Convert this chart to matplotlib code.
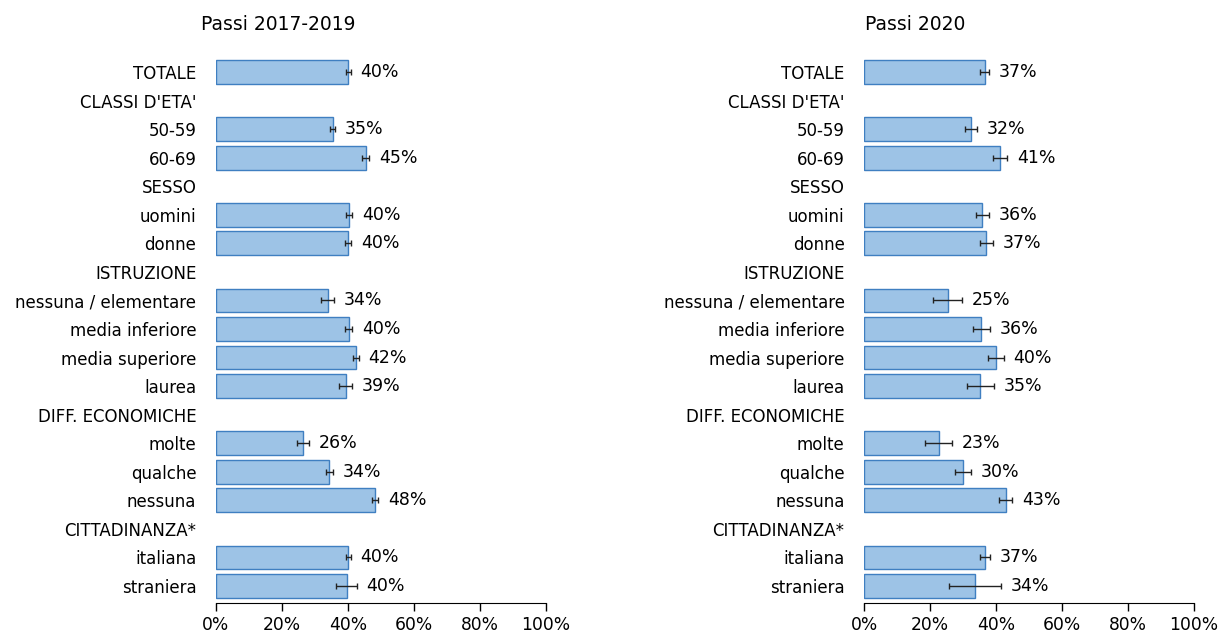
import numpy as np
import matplotlib
matplotlib.use("Agg")
import matplotlib.pyplot as plt

# rows, top to bottom (header rows have no bar)
categories = ["TOTALE", "CLASSI D'ETA'", "50-59", "60-69", "SESSO", "uomini", "donne",
              "ISTRUZIONE", "nessuna / elementare", "media inferiore", "media superiore",
              "laurea", "DIFF. ECONOMICHE", "molte", "qualche", "nessuna",
              "CITTADINANZA*", "italiana", "straniera"]

# Passi 2017-2019
vals_1719 = [40.2, None, 35.4, 45.4, None, 40.4, 40.2, None, 33.9, 40.3, 42.4, 39.4,
             None, 26.4, 34.4, 48.3, None, 40.2, 39.7]
err_1719 = [0.7, None, 0.8, 1.2, None, 0.9, 0.9, None, 2.0, 1.1, 0.9, 1.9,
            None, 1.8, 1.1, 1.0, None, 0.7, 3.1]

# Passi 2020
vals_2020 = [36.6, None, 32.4, 41.2, None, 35.9, 37.1, None, 25.4, 35.6, 39.9, 35.3,
             None, 22.7, 29.9, 42.9, None, 36.6, 33.7]
err_2020 = [1.4, None, 1.9, 2.2, None, 2.0, 2.0, None, 4.4, 2.6, 2.4, 4.0,
            None, 4.1, 2.4, 2.0, None, 1.5, 7.8]

xticks = [0, 20, 40, 60, 80, 100]
xticklabels = ["0%", "20%", "40%", "60%", "80%", "100%"]

plt.rcParams['font.family'] = ['DejaVu Sans']

W, H = 1221, 635
fig = plt.figure(figsize=(W / 100, H / 100), dpi=100)

top_px, bot_px = 57.7, 600.3
panels = [
    (215.7, vals_1719, err_1719, "Passi 2017-2019", 278),
    (864.0, vals_2020, err_2020, "Passi 2020", 915),
]

n = len(categories)
y = np.arange(n)

for left_px, vals, errs, title, title_x in panels:
    ax = fig.add_axes([left_px / W, 1 - bot_px / H, 330 / W, (bot_px - top_px) / H])
    v = np.array([np.nan if a is None else a for a in vals])
    e = np.array([np.nan if a is None else a for a in errs])
    mask = ~np.isnan(v)
    ax.barh(y[mask], v[mask], height=0.83, color='#9dc3e6', edgecolor='#3f7fc1',
            linewidth=1.0, zorder=2)
    ax.errorbar(v[mask], y[mask], xerr=e[mask], fmt='none', ecolor='#222222',
                elinewidth=1.0, capsize=2.5, capthick=1.0, zorder=3)
    for yi, vi, ei in zip(y[mask], v[mask], e[mask]):
        ax.annotate(f"{vi:.0f}%", (vi + ei, yi), xytext=(7, 0), textcoords='offset points',
                    ha='left', va='center', fontsize=12.5)
    ax.set_xlim(0, 100)
    ax.set_ylim(n - 0.5, -0.5)
    ax.set_yticks(y)
    ax.set_yticklabels(categories)
    ax.tick_params(axis='y', length=0, pad=14, labelsize=12)
    ax.set_xticks(xticks)
    ax.set_xticklabels(xticklabels)
    ax.tick_params(axis='x', direction='out', length=6, width=1, pad=3, labelsize=12.3)
    for s in ['top', 'right', 'left']:
        ax.spines[s].set_visible(False)
    ax.spines['bottom'].set_position(('outward', 2))
    fig.text(title_x / W, 1 - 25 / H, title, ha='center', va='center', fontsize=13.5)

fig.savefig("out.png", dpi=100)
